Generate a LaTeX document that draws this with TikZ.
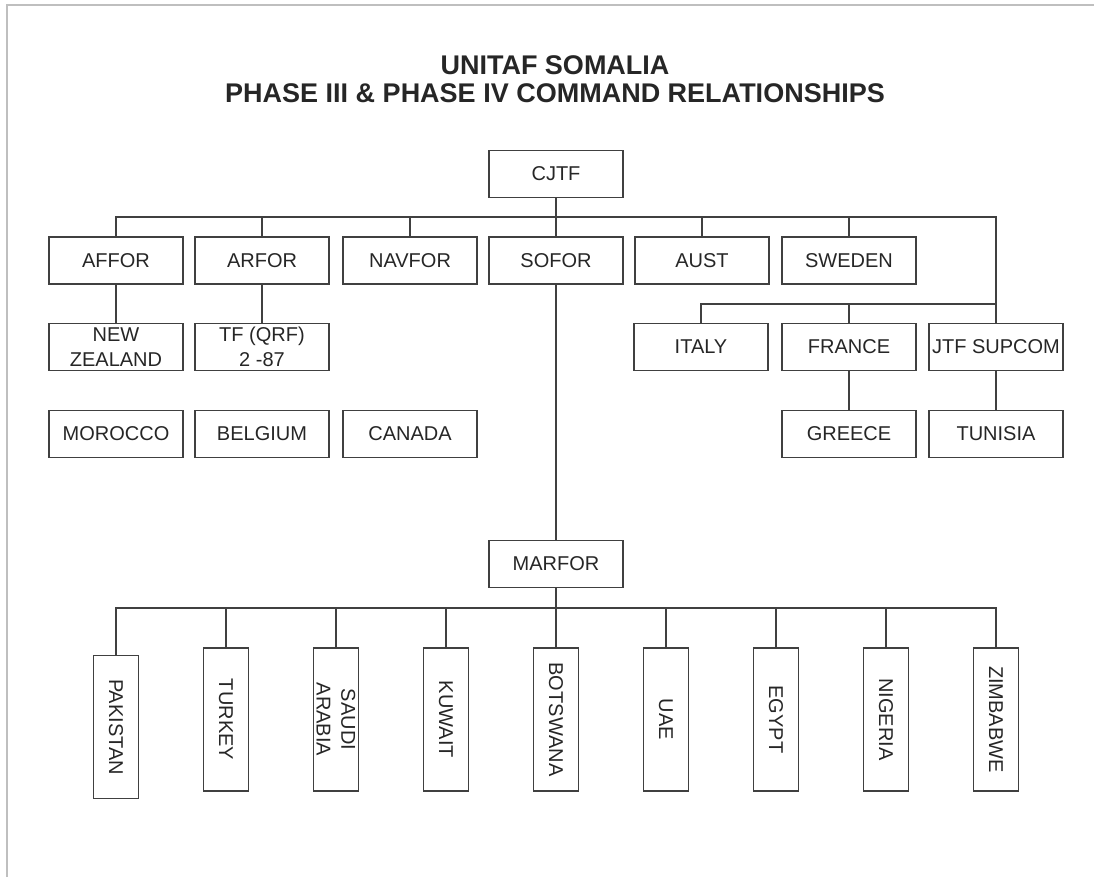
\documentclass[tikz,border=0pt]{standalone}
\usepackage{fontspec}
\setmainfont{Liberation Sans}
\usetikzlibrary{calc}

\begin{document}
\begin{tikzpicture}[x=0.75pt,y=-0.75pt,
    unit/.style={draw=black!75, line width=1.3pt, rectangle, minimum width=100.5pt,
      minimum height=35.25pt, inner sep=1pt, text=black!85, align=center,
      font=\fontsize{15}{18.5}\selectfont},
    nation/.style={unit, rotate=-90, minimum width=107.25pt, minimum height=33.75pt},
    heading/.style={font=\bfseries\fontsize{20.25}{24}\selectfont, text=black!85, anchor=base},
    link/.style={line width=1.3pt, black!75}]
    \useasboundingbox (0,0) rectangle (1094,877);
    \draw[black!25, line width=1.5pt] (7,877) -- (7,5) -- (1094,5);

    \node[heading] (T1) at (555, 75) {UNITAF SOMALIA};
    \node[heading] (T2) at (555,103) {PHASE III \& PHASE IV COMMAND RELATIONSHIPS};

    \node[unit] (CJTF)   at (556,174) {CJTF};
    \node[unit] (AFFOR)  at (116,260.5) {AFFOR};
    \node[unit] (ARFOR)  at (262,260.5) {ARFOR};
    \node[unit] (NAVFOR) at (410,260.5) {NAVFOR};
    \node[unit] (SOFOR)  at (556,260.5) {SOFOR};
    \node[unit] (AUST)   at (702,260.5) {AUST};
    \node[unit] (SWEDEN) at (849,260.5) {SWEDEN};

    \node[unit] (NZ)     at (116,347) {NEW\\ZEALAND};
    \node[unit] (TF)     at (262,347) {TF (QRF)\\2 -87};
    \node[unit] (ITALY)  at (701,347) {ITALY};
    \node[unit] (FRANCE) at (849,347) {FRANCE};
    \node[unit] (JTF)    at (996,347) {JTF SUPCOM};

    \node[unit] (MOROCCO) at (116,434) {MOROCCO};
    \node[unit] (BELGIUM) at (262,434) {BELGIUM};
    \node[unit] (CANADA)  at (410,434) {CANADA};
    \node[unit] (GREECE)  at (849,434) {GREECE};
    \node[unit] (TUNISIA) at (996,434) {TUNISIA};

    \node[unit] (MARFOR) at (556,564) {MARFOR};

    \node[nation] (PAK) at (116,727) {PAKISTAN};
    \node[nation] (TUR) at (226,719.5) {TURKEY};
    \node[nation] (SAU) at (336,719.5) {SAUDI\\ARABIA};
    \node[nation] (KUW) at (446,719.5) {KUWAIT};
    \node[nation] (BOT) at (556,719.5) {BOTSWANA};
    \node[nation] (UAE) at (666,719.5) {UAE};
    \node[nation] (EGY) at (776,719.5) {EGYPT};
    \node[nation] (NIG) at (886,719.5) {NIGERIA};
    \node[nation] (ZIM) at (996,719.5) {ZIMBABWE};

    \coordinate (bus1) at (556,217);
    \coordinate (bus2) at (849,304);
    \coordinate (bus3) at (556,608);

    \draw[link] (CJTF) -- (SOFOR);
    \draw[link] (AFFOR.north) |- (bus1) -| (JTF.north);
    \foreach \u in {ARFOR,NAVFOR,AUST,SWEDEN}
      \draw[link] (\u.north) -- (\u.north |- bus1);
    \draw[link] (ITALY.north) |- (bus2);
    \draw[link] (FRANCE.north) -- (bus2);
    \draw[link] (bus2) -- (JTF.north |- bus2);
    \draw[link] (AFFOR) -- (NZ);
    \draw[link] (ARFOR) -- (TF);
    \draw[link] (FRANCE) -- (GREECE);
    \draw[link] (JTF) -- (TUNISIA);
    \draw[link] (SOFOR) -- (MARFOR);

    \draw[link] (PAK.west) |- (bus3) -| (ZIM.west);
    \draw[link] (MARFOR.south) -- (BOT.west);
    \foreach \c in {TUR,SAU,KUW,UAE,EGY,NIG}
      \draw[link] (\c.west) -- (\c.west |- bus3);
\end{tikzpicture}
\end{document}
